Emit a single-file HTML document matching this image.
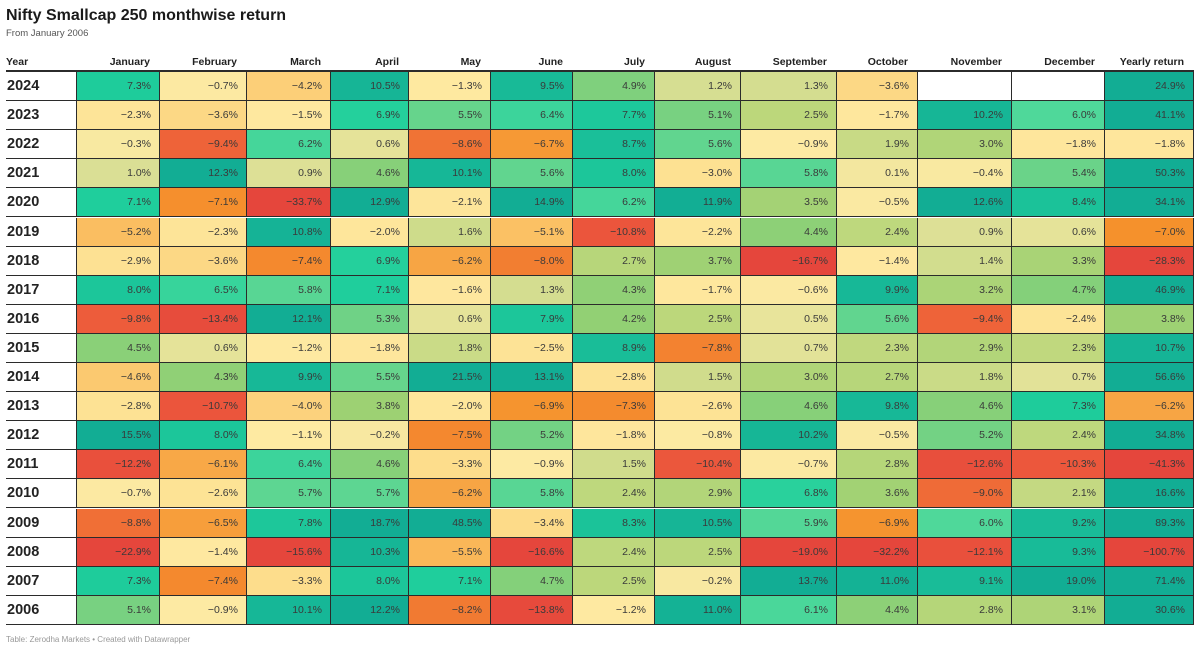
<!DOCTYPE html>
<html><head><meta charset="utf-8">
<style>
body{margin:0;background:#fff;font-family:"Liberation Sans",sans-serif;}
#wrap{position:relative;width:1200px;height:652px;overflow:hidden;background:#fff;}
.abs{position:absolute;}
.cell{position:absolute;box-sizing:border-box;border-right:1.5px solid #2b2b2b;border-bottom:1.5px solid #2b2b2b;font-size:10.5px;color:#3a3a3a;text-align:right;padding-right:8px;}
.yr{position:absolute;box-sizing:border-box;border-bottom:1.5px solid #2b2b2b;font-size:14.5px;font-weight:bold;color:#222;padding-left:1px;}
.hd{position:absolute;font-size:10.5px;font-weight:bold;color:#222;text-align:right;}
</style></head>
<body>
<div id="wrap">
<div class="abs" style="left:6px;top:7px;font-size:16px;font-weight:bold;color:#1a1a1a">Nifty Smallcap 250 monthwise return</div>
<div class="abs" style="left:6px;top:28px;font-size:9.5px;color:#555">From January 2006</div>
<div class="abs" style="left:6px;top:56px;font-size:10.5px;font-weight:bold;color:#222">Year</div>
<div class="abs" style="left:6px;top:70px;width:1188px;height:2px;background:#2b2b2b"></div>
<div id="grid"></div>
<div class="abs" style="left:6px;top:635px;font-size:8px;color:#999">Table: Zerodha Markets • Created with Datawrapper</div>
</div>
<script>
const months = ["January","February","March","April","May","June","July","August","September","October","November","December","Yearly return"];
const years = [2024,2023,2022,2021,2020,2019,2018,2017,2016,2015,2014,2013,2012,2011,2010,2009,2008,2007,2006];
const returns = [
[7.3,-0.7,-4.2,10.5,-1.3,9.5,4.9,1.2,1.3,-3.6,null,null,24.9],
[-2.3,-3.6,-1.5,6.9,5.5,6.4,7.7,5.1,2.5,-1.7,10.2,6.0,41.1],
[-0.3,-9.4,6.2,0.6,-8.6,-6.7,8.7,5.6,-0.9,1.9,3.0,-1.8,-1.8],
[1.0,12.3,0.9,4.6,10.1,5.6,8.0,-3.0,5.8,0.1,-0.4,5.4,50.3],
[7.1,-7.1,-33.7,12.9,-2.1,14.9,6.2,11.9,3.5,-0.5,12.6,8.4,34.1],
[-5.2,-2.3,10.8,-2.0,1.6,-5.1,-10.8,-2.2,4.4,2.4,0.9,0.6,-7.0],
[-2.9,-3.6,-7.4,6.9,-6.2,-8.0,2.7,3.7,-16.7,-1.4,1.4,3.3,-28.3],
[8.0,6.5,5.8,7.1,-1.6,1.3,4.3,-1.7,-0.6,9.9,3.2,4.7,46.9],
[-9.8,-13.4,12.1,5.3,0.6,7.9,4.2,2.5,0.5,5.6,-9.4,-2.4,3.8],
[4.5,0.6,-1.2,-1.8,1.8,-2.5,8.9,-7.8,0.7,2.3,2.9,2.3,10.7],
[-4.6,4.3,9.9,5.5,21.5,13.1,-2.8,1.5,3.0,2.7,1.8,0.7,56.6],
[-2.8,-10.7,-4.0,3.8,-2.0,-6.9,-7.3,-2.6,4.6,9.8,4.6,7.3,-6.2],
[15.5,8.0,-1.1,-0.2,-7.5,5.2,-1.8,-0.8,10.2,-0.5,5.2,2.4,34.8],
[-12.2,-6.1,6.4,4.6,-3.3,-0.9,1.5,-10.4,-0.7,2.8,-12.6,-10.3,-41.3],
[-0.7,-2.6,5.7,5.7,-6.2,5.8,2.4,2.9,6.8,3.6,-9.0,2.1,16.6],
[-8.8,-6.5,7.8,18.7,48.5,-3.4,8.3,10.5,5.9,-6.9,6.0,9.2,89.3],
[-22.9,-1.4,-15.6,10.3,-5.5,-16.6,2.4,2.5,-19.0,-32.2,-12.1,9.3,-100.7],
[7.3,-7.4,-3.3,8.0,7.1,4.7,2.5,-0.2,13.7,11.0,9.1,19.0,71.4],
[5.1,-0.9,10.1,12.2,-8.2,-13.8,-1.2,11.0,6.1,4.4,2.8,3.1,30.6]
];
const colEdges=[76,160,247,331,409,491,573,655,741,837,918,1012,1105,1194];
const top0=72, rowH=29.1;
const stops=[[-15,[229,70,60]],[-10,[236,88,60]],[-7,[245,145,44]],[-5,[251,195,103]],[-3,[253,225,146]],[-1,[254,234,163]],[0,[246,232,160]],[1,[218,223,149]],[2.5,[188,215,123]],[4,[152,208,114]],[5,[124,208,126]],[6,[79,216,154]],[7,[31,207,156]],[9,[25,188,152]],[12,[18,173,148]]];
function color(v){
  if(v<=stops[0][0])return stops[0][1];
  for(let i=1;i<stops.length;i++){if(v<=stops[i][0]){const a=stops[i-1],b=stops[i],t=(v-a[0])/(b[0]-a[0]);return a[1].map((c,k)=>Math.round(c+(b[1][k]-c)*t));}}
  return stops[stops.length-1][1];
}
const wrap=document.getElementById('grid');
months.forEach((m,j)=>{
  const h=document.createElement('div');
  h.className='hd';
  
  
  h.style.left=colEdges[j]+'px';h.style.width=(colEdges[j+1]-colEdges[j]-10)+'px';h.style.top='56px';
  h.textContent=m;wrap.appendChild(h);
});
years.forEach((y,i)=>{
  const t=top0+i*rowH;
  const yl=document.createElement('div');
  yl.className='yr';
  
  
  yl.style.left='6px';yl.style.width='70px';yl.style.top=t+'px';yl.style.height=rowH+'px';yl.style.lineHeight=rowH+'px';
  yl.textContent=y;wrap.appendChild(yl);
  returns[i].forEach((v,j)=>{
    const c=document.createElement('div');
    c.className='cell';
    
    
    c.style.left=colEdges[j]+'px';c.style.width=(colEdges[j+1]-colEdges[j])+'px';
    c.style.top=t+'px';c.style.height=rowH+'px';c.style.lineHeight=(rowH-1)+'px';
    if(j===0)c.style.borderLeft='1.5px solid #2b2b2b';
    if(v===null){c.style.background='#fff';}
    else{const col=color(v);c.style.background='rgb('+col.join(',')+')';c.textContent=(v<0?'\u2212'+Math.abs(v).toFixed(1):v.toFixed(1))+'%';}
    wrap.appendChild(c);
  });
});
</script>
</body></html>
